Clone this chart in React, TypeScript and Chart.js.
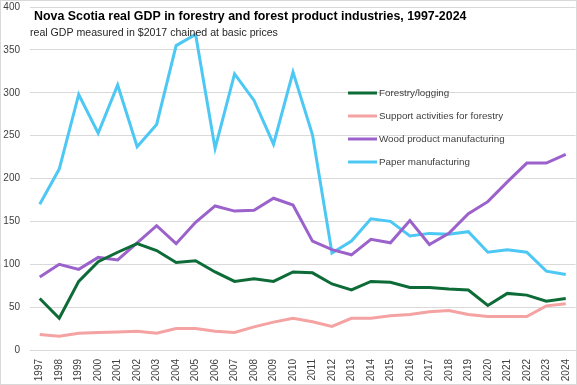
import React, { useEffect, useRef } from "react";
import { Chart, registerables } from "chart.js";

Chart.register(...registerables);

const TITLE = "Nova Scotia real GDP in forestry and forest product industries, 1997-2024";
const SUBTITLE = "real GDP measured in $2017 chained at basic prices";

const years = [
  "1997", "1998", "1999", "2000", "2001", "2002", "2003", "2004", "2005", "2006",
  "2007", "2008", "2009", "2010", "2011", "2012", "2013", "2014", "2015", "2016",
  "2017", "2018", "2019", "2020", "2021", "2022", "2023", "2024",
];

const forestryLogging = [
  60, 37, 80, 103, 114, 124, 116, 102, 104, 91,
  80, 83, 80, 91, 90, 77, 70, 80, 79, 73,
  73, 71, 70, 52, 66, 64, 57, 60,
];

const supportActivities = [
  18, 16, 19.5, 20.5, 21, 22, 19.5, 25, 25, 22,
  20.5, 27, 32.5, 37, 33, 27.5, 37, 37, 40, 41.5,
  44.5, 46, 41.5, 39, 39, 39, 51.5, 54,
];

const woodProduct = [
  85, 100, 94, 108, 105, 125, 145, 124, 149, 168,
  162, 163, 177, 169, 127, 117, 111, 129, 125, 151,
  123, 136, 159, 173, 196, 218, 218, 228,
];

const paper = [
  170, 211, 298, 253, 309, 237, 263, 355, 368, 235,
  322, 291, 240, 324, 251, 113, 127, 153, 150, 133,
  136, 135, 138, 114, 117, 114, 92, 88,
];

const seriesLabels = [
  "Forestry/logging",
  "Support activities for forestry",
  "Wood product manufacturing",
  "Paper manufacturing",
];

const seriesColors = ["#0d6b37", "#f4a2a2", "#9c62cb", "#4dc8f4"];

const FONT = "'Liberation Sans', Arial, sans-serif";

const overlayPlugin = {
  id: "overlay",
  afterDraw(chart: any) {
    const ctx = chart.ctx as CanvasRenderingContext2D;
    ctx.save();
    ctx.strokeStyle = "#d9d9d9";
    ctx.lineWidth = 1;
    ctx.strokeRect(0.5, 0.5, chart.width - 1, chart.height - 1);

    ctx.textBaseline = "middle";
    ctx.textAlign = "left";
    ctx.fillStyle = "#000000";
    ctx.font = `bold 12.4px ${FONT}`;
    ctx.fillText(TITLE, 34, 17);

    ctx.fillStyle = "#262626";
    ctx.font = `10.6px ${FONT}`;
    ctx.fillText(SUBTITLE, 30, 33);

    chart.data.datasets.forEach((ds: any, i: number) => {
      const y = 93 + i * 23;
      ctx.strokeStyle = ds.borderColor;
      ctx.lineWidth = 3;
      ctx.beginPath();
      ctx.moveTo(348, y);
      ctx.lineTo(377, y);
      ctx.stroke();
      ctx.fillStyle = "#404040";
      ctx.font = `9.8px ${FONT}`;
      ctx.fillText(ds.label, 379, y);
    });
    ctx.restore();
  },
};

export default function App() {
  const canvasRef = useRef<HTMLCanvasElement | null>(null);

  useEffect(() => {
    document.body.style.margin = "0";
    const canvas = canvasRef.current;
    if (!canvas) return;
    const dataSets = [forestryLogging, supportActivities, woodProduct, paper];
    const chart = new Chart(canvas, {
      type: "line",
      data: {
        labels: years,
        datasets: dataSets.map((d, i) => ({
          label: seriesLabels[i],
          data: d,
          borderColor: seriesColors[i],
          backgroundColor: seriesColors[i],
          borderWidth: 3,
          pointRadius: 0,
          tension: 0,
          fill: false,
        })),
      },
      options: {
        animation: false,
        responsive: true,
        maintainAspectRatio: false,
        layout: { padding: { top: 7, right: 1.5, left: 0, bottom: 0 } },
        plugins: {
          legend: { display: false },
          title: { display: false },
          tooltip: { enabled: false },
        },
        scales: {
          x: {
            offset: true,
            grid: { display: false, drawTicks: false },
            border: { display: true, color: "#d9d9d9", width: 1 },
            ticks: {
              autoSkip: false,
              maxRotation: 90,
              minRotation: 90,
              padding: 9,
              color: "#404040",
              font: { family: FONT, size: 10 },
            },
            afterFit: (scale: any) => {
              scale.height = 35;
              scale.paddingLeft = 0;
              scale.paddingRight = 0;
            },
          },
          y: {
            min: 0,
            max: 400,
            grid: { color: "#d9d9d9", drawTicks: false },
            border: { display: false },
            ticks: {
              stepSize: 50,
              padding: 10,
              color: "#404040",
              font: { family: FONT, size: 10 },
            },
            afterFit: (scale: any) => {
              scale.width = 30;
              scale.paddingTop = 0;
              scale.paddingBottom = 0;
            },
          },
        },
      },
      plugins: [overlayPlugin],
    });
    return () => chart.destroy();
  }, []);

  return (
    <div style={{ width: 577, height: 385, position: "relative" }}>
      <canvas ref={canvasRef} />
    </div>
  );
}
